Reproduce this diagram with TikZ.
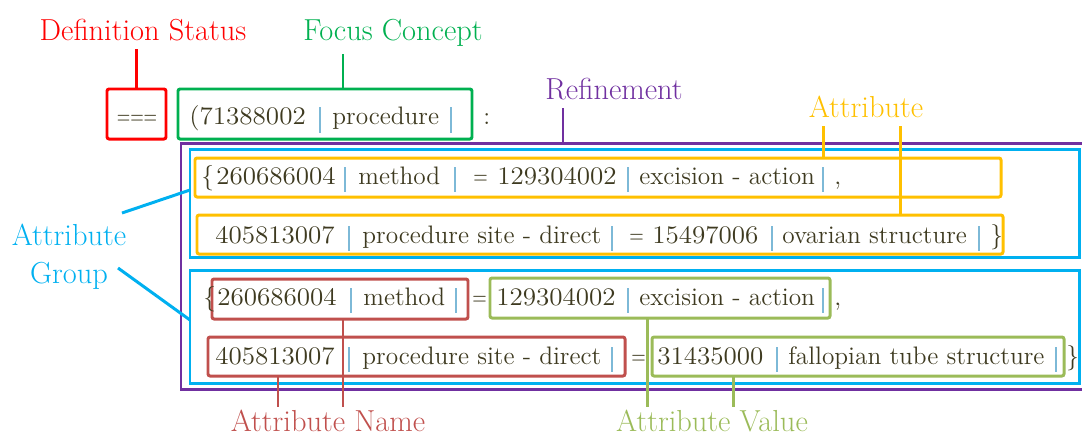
\documentclass[tikz,border=0pt]{standalone}
\usepackage{tikz}
\usetikzlibrary{positioning}
\usetikzlibrary{fit}

\definecolor{dsred}{RGB}{255,0,0}
\definecolor{fcgreen}{RGB}{0,176,80}
\definecolor{refpurple}{RGB}{112,48,160}
\definecolor{attyellow}{RGB}{255,192,0}
\definecolor{grpblue}{RGB}{0,176,240}
\definecolor{namered}{RGB}{192,80,77}
\definecolor{valgreen}{RGB}{155,187,89}
\definecolor{termink}{RGB}{62,58,32}
\definecolor{sepblue}{RGB}{125,185,215}

\newcommand{\narroweq}{\scalebox{0.75}[1]{=}}
\newcommand{\sctid}[1]{\scalebox{1.07}[1]{#1}}

\tikzset{
  termtxt/.style={anchor=base west, inner sep=0pt, text=termink, font=\fontsize{14.4}{17}\selectfont},
  tagtxt/.style={anchor=base, inner sep=4.5pt, font=\fontsize{17.3}{20}\selectfont},
  cbox/.style={draw=#1, line width=1.7pt, rounded corners=1.2pt, inner sep=0pt},
  lead/.style={draw=#1, line width=1.7pt},
  sepbar/.style={draw=sepblue, line width=0.6pt}
}

\begin{document}
\begin{tikzpicture}[x=0.02cm, y=-0.02cm]
          \useasboundingbox (0,0) rectangle (1082,437);
          \node[tagtxt, text=dsred] (dslab) at (143,40) {Definition Status};
          \node[tagtxt, text=fcgreen] (fclab) at (393,40) {Focus Concept};
          \node[tagtxt, text=refpurple] (reflab) at (614,99) {Refinement};
          \node[tagtxt, text=attyellow] (attlab) at (866,117) {Attribute};
          \node[tagtxt, text=grpblue, anchor=center, align=center, font=\fontsize{17.3}{21.6}\selectfont] (grplab) at (69,257) {Attribute\\Group};
          \node[tagtxt, text=namered, inner sep=1pt] (namelab) at (328,431) {Attribute Name};
          \node[tagtxt, text=valgreen, inner sep=1pt] (vallab) at (712,431) {Attribute Value};
          \draw[lead=refpurple] (1090,143) -- (181,143) -- (181,389) -- (1090,389);
          \node[cbox=dsred, fit={(107,89) (166,139)}] (dsbox) {};
          \node[cbox=fcgreen, fit={(178,89) (472,139)}] (fcbox) {};
          \node[cbox=grpblue, rounded corners=0pt, fit={(190,149) (1079,257)}] (grp1) {};
          \node[cbox=grpblue, rounded corners=0pt, fit={(190,270) (1079,383)}] (grp2) {};
          \node[cbox=attyellow, fit={(195,158) (1001,197)}] (att1) {};
          \node[cbox=attyellow, fit={(197,215) (1003,254)}] (att2) {};
          \node[cbox=namered, fit={(212,279) (468,319)}] (name1) {};
          \node[cbox=namered, fit={(208,337) (625,376)}] (name2) {};
          \node[cbox=valgreen, fit={(490,278) (830,318)}] (val1) {};
          \node[cbox=valgreen, fit={(652,337) (1064,376)}] (val2) {};
          \node[termtxt, anchor=base] (dseq) at (137,124) {\scalebox{0.7}[1]{===}};
          \node[termtxt] (fcid) at (189,124) {\sctid{(71388002}};
          \node[termtxt] (fcterm) at (332,124) {procedure};
          \node[termtxt] (colon) at (483,124) {:};
          \foreach \x in {320,451} \draw[sepbar] (\x,107) -- (\x,133);
          \node[termtxt] (ob1) at (201,184) {\{};
          \node[termtxt] (an1) at (216,184) {\sctid{260686004}};
          \node[termtxt] (at1) at (358,184) {method};
          \node[termtxt] (eq1) at (473,184) {\narroweq};
          \node[termtxt] (vn1) at (497,184) {\sctid{129304002}};
          \node[termtxt] (vt1) at (639,184) {excision - action};
          \node[termtxt] (cm1) at (834,184) {,};
          \foreach \x in {345,455,628,823} \draw[sepbar] (\x,167) -- (\x,192);
          \node[termtxt] (an2) at (215,243) {\sctid{405813007}};
          \node[termtxt] (at2) at (362,243) {procedure site - direct};
          \node[termtxt] (eq2) at (629,243) {\narroweq};
          \node[termtxt] (vn2) at (652,243) {\sctid{15497006}};
          \node[termtxt] (vt2) at (782,243) {ovarian structure};
          \node[termtxt] (cb2) at (990,243) {\}};
          \foreach \x in {349,612,772,979} \draw[sepbar] (\x,226) -- (\x,251);
          \node[termtxt] (ob3) at (203,305) {\{};
          \node[termtxt] (an3) at (217,305) {\sctid{260686004}};
          \node[termtxt] (at3) at (363,305) {method};
          \node[termtxt] (eq3) at (472,305) {\narroweq};
          \node[termtxt] (vn3) at (496,305) {\sctid{129304002}};
          \node[termtxt] (vt3) at (639,305) {excision - action};
          \node[termtxt] (cm3) at (834,305) {,};
          \foreach \x in {351,456,628,823} \draw[sepbar] (\x,288) -- (\x,313);
          \node[termtxt] (an4) at (215,364) {\sctid{405813007}};
          \node[termtxt] (at4) at (362,364) {procedure site - direct};
          \node[termtxt] (eq4) at (631,364) {\narroweq};
          \node[termtxt] (vn4) at (657,364) {\sctid{31435000}};
          \node[termtxt] (vt4) at (788,364) {fallopian tube structure};
          \node[termtxt] (cb4) at (1066,364) {\}};
          \foreach \x in {349,612,777,1056} \draw[sepbar] (\x,347) -- (\x,372);
          \coordinate (fcpin) at (343,89);
          \coordinate (refpin) at (563,143);
          \coordinate (att1pin) at (823,158);
          \coordinate (att2pin) at (900,215);
          \coordinate (grp1pin) at (190,190);
          \coordinate (grp2pin) at (190,320);
          \coordinate (grp1end) at (122,213);
          \coordinate (grp2end) at (118,268);
          \coordinate (name1pin) at (343,319);
          \coordinate (name2pin) at (278,376);
          \coordinate (val1pin) at (647,318);
          \coordinate (val2pin) at (733,376);
          \draw[lead=dsred] (dsbox.north) -- (dsbox.north |- dslab.south);
          \draw[lead=fcgreen] (fcpin) -- (fcpin |- fclab.south);
          \draw[lead=refpurple] (refpin) -- (refpin |- reflab.south);
          \draw[lead=attyellow] (att1pin) -- (att1pin |- attlab.south);
          \draw[lead=attyellow] (att2pin) -- (att2pin |- attlab.south);
          \draw[lead=grpblue] (grp1end) -- (grp1pin);
          \draw[lead=grpblue] (grp2end) -- (grp2pin);
          \draw[lead=namered] (name1pin) -- (name1pin |- namelab.north);
          \draw[lead=namered] (name2pin) -- (name2pin |- namelab.north);
          \draw[lead=valgreen] (val1pin) -- (val1pin |- vallab.north);
          \draw[lead=valgreen] (val2pin) -- (val2pin |- vallab.north);
        \end{tikzpicture}
\end{document}
